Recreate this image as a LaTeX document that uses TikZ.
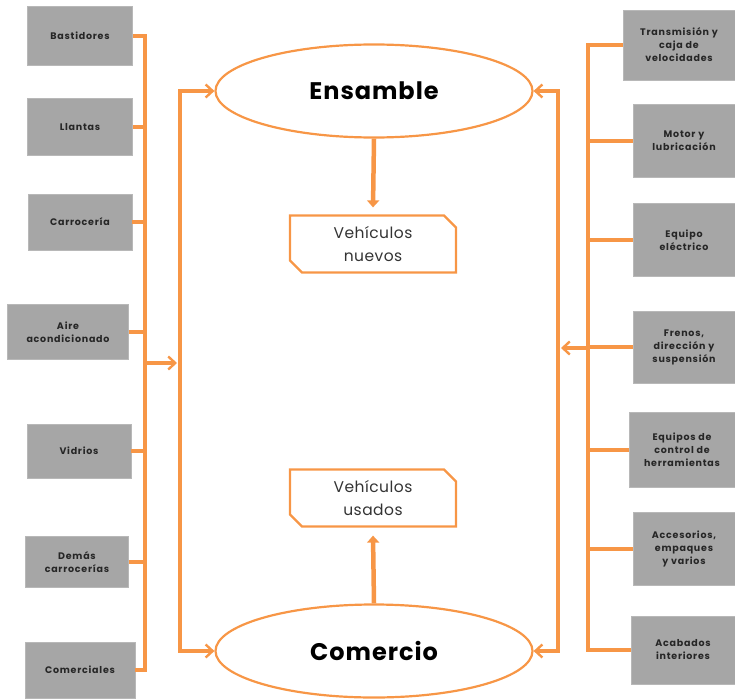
\documentclass[tikz,border=0pt]{standalone}
\usepackage{fontspec}
\setmainfont{Poppins}
\usetikzlibrary{shapes.geometric,shapes.misc,arrows.meta}

\definecolor{lineorange}{RGB}{247,150,70}
\definecolor{boxgray}{RGB}{166,166,166}

\begin{document}
\begin{tikzpicture}[x=1pt, y=-1pt,
    part/.style={fill=boxgray, draw=boxgray!80, inner sep=1pt, align=center,
                 font=\fontsize{9.5}{13}\selectfont\bfseries\addfontfeature{LetterSpace=8}, text=black!85},
    sector/.style={ellipse, draw=lineorange, line width=2.2pt, inner sep=0pt,
                   minimum width=317, minimum height=93,
                   font=\fontsize{24}{28}\selectfont\bfseries\addfontfeature{LetterSpace=4}},
    product/.style={chamfered rectangle, chamfered rectangle corners={north east, south west},
                    chamfered rectangle xsep=6pt, chamfered rectangle ysep=6pt,
                    draw=lineorange, line width=2.2pt, align=center, inner sep=0pt,
                    minimum width=166, minimum height=57,
                    font=\fontsize{15.5}{23}\selectfont\addfontfeature{LetterSpace=3}, text=black!80},
    bus/.style={draw=lineorange, line width=3.2pt},
    feed/.style={bus, -{Straight Barb[length=7pt, width=13pt, line width=2.4pt]}},
    prodarrow/.style={draw=lineorange, line width=4.5pt, -{Triangle[length=7pt, width=12pt]}}]

    \useasboundingbox (0,0) rectangle (735,698);

    % \draw[help lines] (0,0) grid[step=50] (735,698);

    % left parts
    \node (bast)  at ( 80, 36) [part, minimum width=105, minimum height=59] {Bastidores};
    \node (llan)  at ( 80,127) [part, minimum width=105, minimum height=57] {Llantas};
    \node (carr)  at ( 80,222) [part, minimum width=104, minimum height=56] {Carrocería};
    \node (aire)  at ( 68,332) [part, minimum width=121, minimum height=55] {Aire\\acondicionado};
    \node (vidr)  at ( 79,451) [part, minimum width=104, minimum height=54] {Vidrios};
    \node (dema)  at ( 77,562) [part, minimum width=103, minimum height=51] {Demás\\carrocerías};
    \node (come)  at ( 80,670) [part, minimum width=110, minimum height=56] {Comerciales};

    % right parts
    \node (tran)  at (679, 45) [part, minimum width=112, minimum height=70] {Transmisión y\\caja de\\velocidades};
    \node (moto)  at (684,141) [part, minimum width=102, minimum height=73] {Motor y\\lubricación};
    \node (elec)  at (684,240) [part, minimum width=102, minimum height=73] {Equipo\\eléctrico};
    \node (fren)  at (684,347) [part, minimum width=102, minimum height=72] {Frenos,\\dirección y\\suspensión};
    \node (ctrl)  at (682,450) [part, minimum width=106, minimum height=75] {Equipos de\\control de\\herramientas};
    \node (acce)  at (684,549) [part, minimum width=102, minimum height=73] {Accesorios,\\empaques\\y varios};
    \node (acab)  at (683,650) [part, minimum width=104, minimum height=68] {Acabados\\interiores};

    % sectors and products
    \node (ens)   at (374, 91) [sector] {Ensamble};
    \node (com)   at (374,651) [sector] {Comercio};
    \node (nuev)  at (373,244) [product] {Vehículos\\nuevos};
    \node (usad)  at (373,498) [product] {Vehículos\\usados};

    \draw[prodarrow] (ens.south) -- ([yshift=7pt]nuev.north);
    \draw[prodarrow] (com.north) -- ([yshift=-8pt]usad.south);

    % left buses
    \coordinate (lbus)  at (145,363);
    \coordinate (lfeed) at (180,363);

    \draw[bus] (bast.east) -| (lbus) |- (come.east);
    \foreach \p in {llan, carr, aire, vidr, dema}
        \draw[bus] (\p.east) -- (\p.east -| lbus);
    \draw[feed] (lbus) -- ([xshift=-3pt]lfeed);
    \draw[feed, {Straight Barb[length=7pt, width=13pt, line width=2.4pt]}-{Straight Barb[length=7pt, width=13pt, line width=2.4pt]}]
        (ens.west) -| (lfeed) |- (com.west);

    % right buses
    \coordinate (rbus)  at (588,348);
    \coordinate (rfeed) at (558,348);

    \draw[bus] (tran.west) -| (rbus) |- (acab.west);
    \foreach \p in {moto, elec, fren, ctrl, acce}
        \draw[bus] (\p.west) -- (\p.west -| rbus);
    \draw[feed] (rbus) -- ([xshift=3pt]rfeed);
    \draw[feed, {Straight Barb[length=7pt, width=13pt, line width=2.4pt]}-{Straight Barb[length=7pt, width=13pt, line width=2.4pt]}]
        (ens.east) -| (rfeed) |- (com.east);

\end{tikzpicture}
\end{document}
